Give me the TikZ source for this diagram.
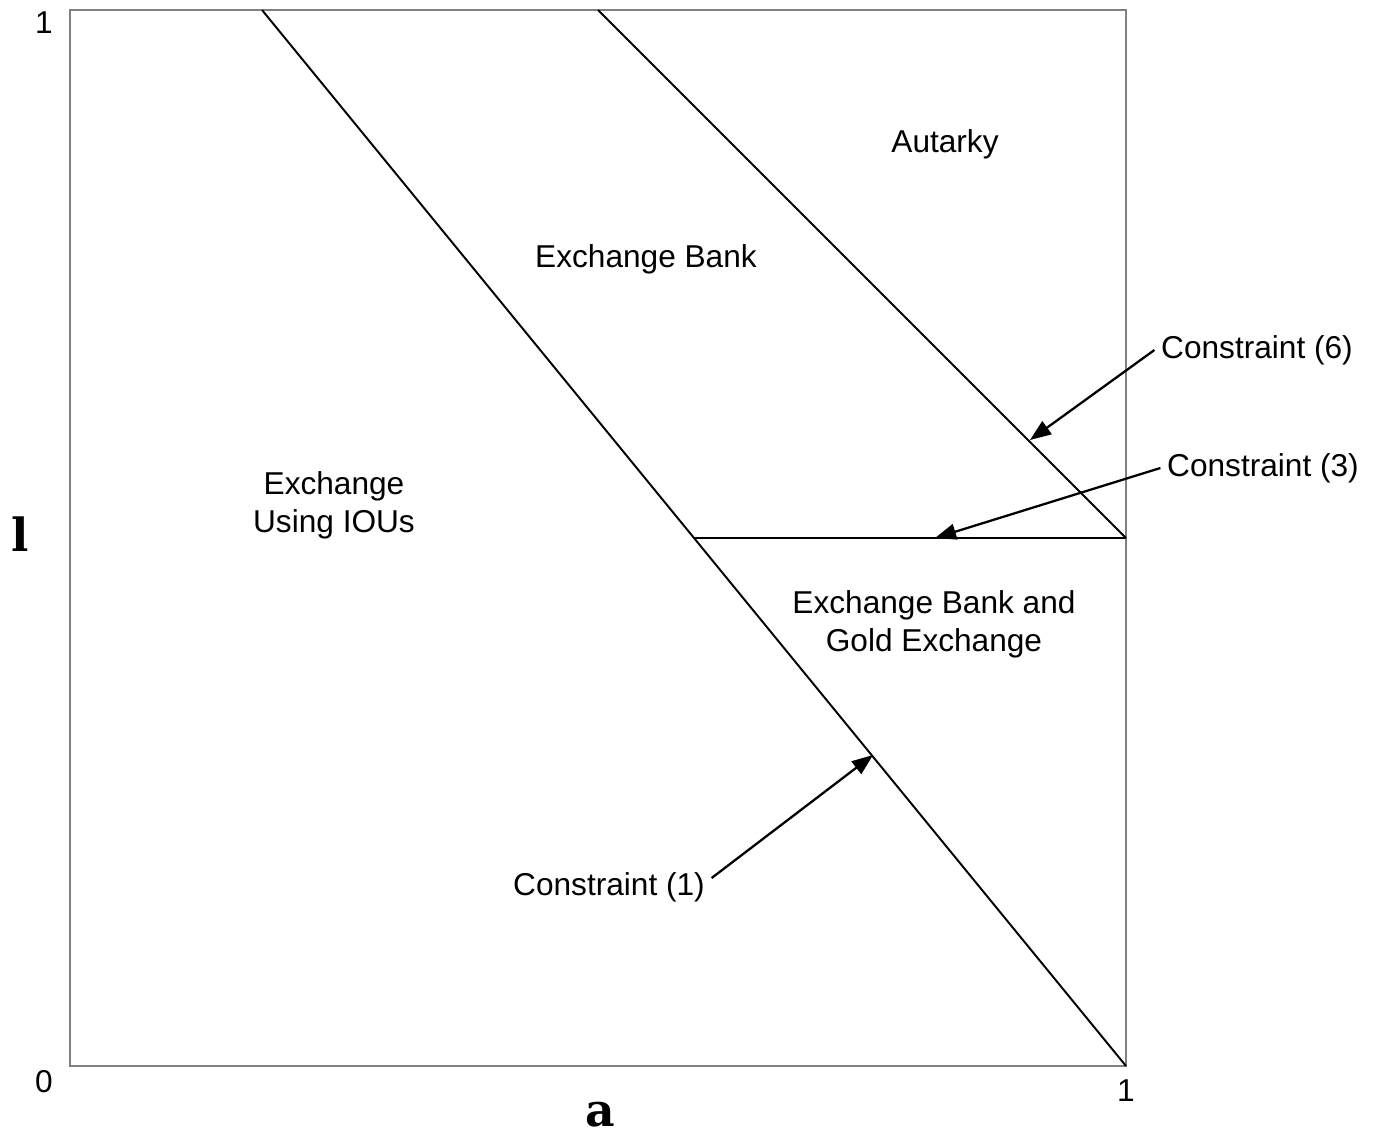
\documentclass[tikz,border=0pt]{standalone}
\usepackage{fontspec}
\setmainfont{Liberation Sans}
\newfontfamily\varfont{DejaVu Serif}
\usetikzlibrary{arrows.meta}
\definecolor{framegray}{RGB}{128,128,128}
\begin{document}
\begin{tikzpicture}
	[x=0.02cm,y=-0.02cm,line width=1.1pt,%
	  every node/.style={font=\fontsize{18}{21.6}\selectfont,align=center},
	  varlabel/.style={font=\varfont\bfseries\fontsize{26}{30}\selectfont},
	  constraint/.style={-{Triangle[length=12pt,width=9pt]},line width=1.3pt}]
	\useasboundingbox (0,0) rectangle (1378,1136);
	\draw[framegray] (70,10) rectangle (1126,1066);
	% corners and ends of the constraint lines
	\coordinate (c1top) at (262,10);
	\coordinate (c1end) at (1126,1066);
	\coordinate (c6top) at (598,10);
	\coordinate (c6end) at (1126,538);
	\coordinate (c3start) at (694,538);
	\draw (c1top) -- (c1end);
	\draw (c6top) -- (c6end);
	\draw (c3start) -- (c6end);
	% axis labels
	\node (ltop) at (44,23) {1};
	\node (lzero) at (44,1082) {0};
	\node (aone) at (1126,1091) {1};
	\node[varlabel] (lvar) at (20,534) {l};
	\node[varlabel] (avar) at (600,1115) {a};
	% regions
	\node (autarky) at (945,144) {Autarky};
	\node (bank) at (646,259) {Exchange Bank};
	\node (ious) at (334,505) {Exchange\\Using IOUs};
	\node (gold) at (934,624) {Exchange Bank and\\Gold Exchange};
	% constraints
	\node (con6) at (1257,350) {Constraint (6)};
	\node (con3) at (1263,468) {Constraint (3)};
	\node (con1) at (609,887) {Constraint (1)};
	\coordinate (tip6) at (1030,440);
	\coordinate (tip3) at (935,538);
	\coordinate (tip1) at (873,755);
	\draw[constraint] (con6.west) -- (tip6);
	\draw[constraint] (con3.west) -- (tip3);
	\draw[constraint] (con1.5) -- (tip1);
\end{tikzpicture}
\end{document}
